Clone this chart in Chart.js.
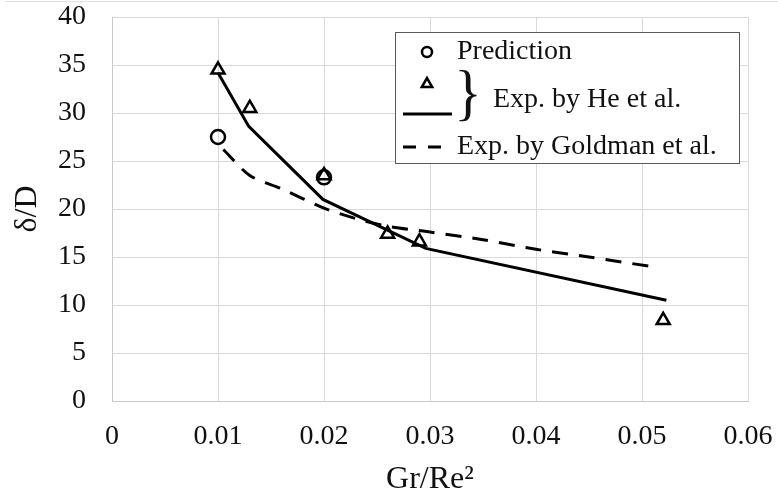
<!DOCTYPE html>
<html>
<head>
<meta charset="utf-8">
<script src="https://cdn.jsdelivr.net/npm/chart.js@4.4.1/dist/chart.umd.min.js"></script>
<style>
  body { margin: 0; background: #fff; }
  #wrap { width: 778px; height: 499px; }
</style>
</head>
<body>
<div id="wrap"><canvas id="grafica" width="778" height="499"></canvas></div>
<script>
// Datos
var predX = [0.01, 0.02];
var predY = [27.5, 23.3];

var heExpX = [0.01, 0.013, 0.02, 0.026, 0.029, 0.052];
var heExpY = [34.5, 30.5, 23.5, 17.4, 16.6, 8.4];

var heFitX = [0.01, 0.0129, 0.0199, 0.0296, 0.0523];
var heFitY = [34.2, 28.6, 21.0, 15.9, 10.5];

var goldX = [0.0105, 0.013, 0.016, 0.02, 0.023, 0.026, 0.03, 0.035, 0.04, 0.045, 0.0515];
var goldY = [26.2, 23.5, 22.1, 20.1, 19.0, 18.2, 17.6, 16.8, 15.8, 15.0, 13.9];

var xTicks = [0, 0.01, 0.02, 0.03, 0.04, 0.05, 0.06];
var yTicks = [0, 5, 10, 15, 20, 25, 30, 35, 40];

var legendLabels = ['Prediction', 'Exp. by He et al.', 'Exp. by Goldman et al.'];

var FUENTE = "'Liberation Serif', 'Times New Roman', serif";
var NEGRO = '#000000';

function pares(xs, ys) {
    return xs.map((x, i) => ({x: x, y: ys[i]}));
}

// quitar el relleno automático que añaden las etiquetas de los ejes
function sinRelleno(s) {
    s.paddingTop = 0; s.paddingBottom = 0;
    s.paddingLeft = 0; s.paddingRight = 0;
}

// línea gris fina arriba del todo (borde de la imagen original)
var bordePlugin = {
    id: 'bordeSuperior',
    beforeDraw(chart) {
        var ctx = chart.ctx;
        ctx.save();
        ctx.strokeStyle = '#e2e2e2';
        ctx.lineWidth = 1;
        ctx.beginPath();
        ctx.moveTo(5, 1.5);
        ctx.lineTo(chart.width, 1.5);
        ctx.stroke();
        ctx.restore();
    }
};

// Leyenda propia (con la llave de He et al.)
var leyendaPlugin = {
    id: 'leyendaPropia',
    afterDatasetsDraw(chart) {
        var ctx = chart.ctx;
        var a = chart.chartArea;
        var L = a.left, T = a.top;
        ctx.save();
        // caja
        ctx.fillStyle = '#ffffff';
        ctx.fillRect(L + 283, T + 15, 344, 131);
        ctx.strokeStyle = '#595959';
        ctx.lineWidth = 1;
        ctx.strokeRect(L + 283.5, T + 15.5, 344, 131);

        // marcadores
        var dp = Chart.helpers.drawPoint;
        ctx.strokeStyle = NEGRO;
        ctx.fillStyle = 'rgba(0,0,0,0)';
        ctx.lineWidth = 2.5;
        dp(ctx, {pointStyle: 'circle', radius: 5, borderWidth: 2.5}, L + 315, T + 35);
        dp(ctx, {pointStyle: 'triangle', radius: 6, borderWidth: 2.5}, L + 315, T + 67);

        // línea continua
        ctx.lineWidth = 3;
        ctx.setLineDash([]);
        ctx.beginPath();
        ctx.moveTo(L + 291, T + 97);
        ctx.lineTo(L + 340, T + 97);
        ctx.stroke();

        // línea discontinua
        ctx.setLineDash([13, 12]);
        ctx.beginPath();
        ctx.moveTo(L + 291, T + 130);
        ctx.lineTo(L + 329, T + 130);
        ctx.stroke();
        ctx.setLineDash([]);

        // textos
        ctx.fillStyle = '#111111';
        ctx.font = '28px ' + FUENTE;
        ctx.textBaseline = 'middle';
        ctx.textAlign = 'left';
        ctx.fillText(legendLabels[0], L + 345, T + 35);
        ctx.fillText(legendLabels[1], L + 381, T + 83);
        ctx.fillText(legendLabels[2], L + 345, T + 130);

        // llave
        ctx.save();
        ctx.translate(L + 356, T + 80);
        ctx.scale(1.3, 1.4);
        ctx.font = '44px ' + FUENTE;
        ctx.textAlign = 'center';
        ctx.fillText('}', 0, 0);
        ctx.restore();

        ctx.restore();
    }
};

var ctx = document.getElementById('grafica').getContext('2d');
new Chart(ctx, {
    type: 'scatter',
    data: {
        datasets: [{
            label: legendLabels[0],
            data: pares(predX, predY),
            pointStyle: 'circle',
            pointRadius: 7,
            pointBorderWidth: 2.5,
            borderColor: NEGRO,
            backgroundColor: 'rgba(0,0,0,0)',
            showLine: false
        }, {
            label: legendLabels[1],
            data: pares(heExpX, heExpY),
            pointStyle: 'triangle',
            pointRadius: 7.5,
            pointBorderWidth: 2.5,
            borderColor: NEGRO,
            backgroundColor: 'rgba(0,0,0,0)',
            showLine: false
        }, {
            label: legendLabels[1] + ' (línea)',
            data: pares(heFitX, heFitY),
            showLine: true,
            pointRadius: 0,
            borderColor: NEGRO,
            borderWidth: 3,
            tension: 0
        }, {
            label: legendLabels[2],
            data: pares(goldX, goldY),
            showLine: true,
            pointRadius: 0,
            borderColor: NEGRO,
            borderWidth: 3,
            borderDash: [16, 11],
            tension: 0.3
        }]
    },
    options: {
        responsive: false,
        animation: false,
        layout: { padding: { top: 17, right: 30, left: 0, bottom: 0 } },
        plugins: {
            legend: { display: false },
            tooltip: { enabled: false }
        },
        scales: {
            x: {
                type: 'linear',
                min: 0,
                max: 0.06,
                afterBuildTicks: (s) => { s.ticks = xTicks.map(v => ({value: v})); },
                afterFit: (s) => { s.height = 98; sinRelleno(s); },
                grid: { color: '#d9d9d9', lineWidth: 1, drawTicks: false },
                border: { color: '#c8c8c8', width: 1 },
                ticks: {
                    color: '#111111',
                    font: { family: FUENTE, size: 28 },
                    padding: 19,
                    maxRotation: 0,
                    callback: (v) => v === 0 ? '0' : v.toFixed(2)
                },
                title: {
                    display: true,
                    text: 'Gr/Re²',
                    color: '#111111',
                    font: { family: FUENTE, size: 32 },
                    padding: { top: 0, bottom: 0 }
                }
            },
            y: {
                min: 0,
                max: 40,
                afterBuildTicks: (s) => { s.ticks = yTicks.map(v => ({value: v})); },
                afterFit: (s) => { s.width = 112; sinRelleno(s); },
                grid: { color: '#d9d9d9', lineWidth: 1, drawTicks: false },
                border: { color: '#c8c8c8', width: 1 },
                ticks: {
                    color: '#111111',
                    font: { family: FUENTE, size: 28 },
                    padding: 26
                },
                title: {
                    display: true,
                    text: 'δ/D',
                    color: '#111111',
                    font: { family: FUENTE, size: 32 },
                    padding: { top: 8, bottom: 0 }
                }
            }
        }
    },
    plugins: [bordePlugin, leyendaPlugin]
});
</script>
</body>
</html>
